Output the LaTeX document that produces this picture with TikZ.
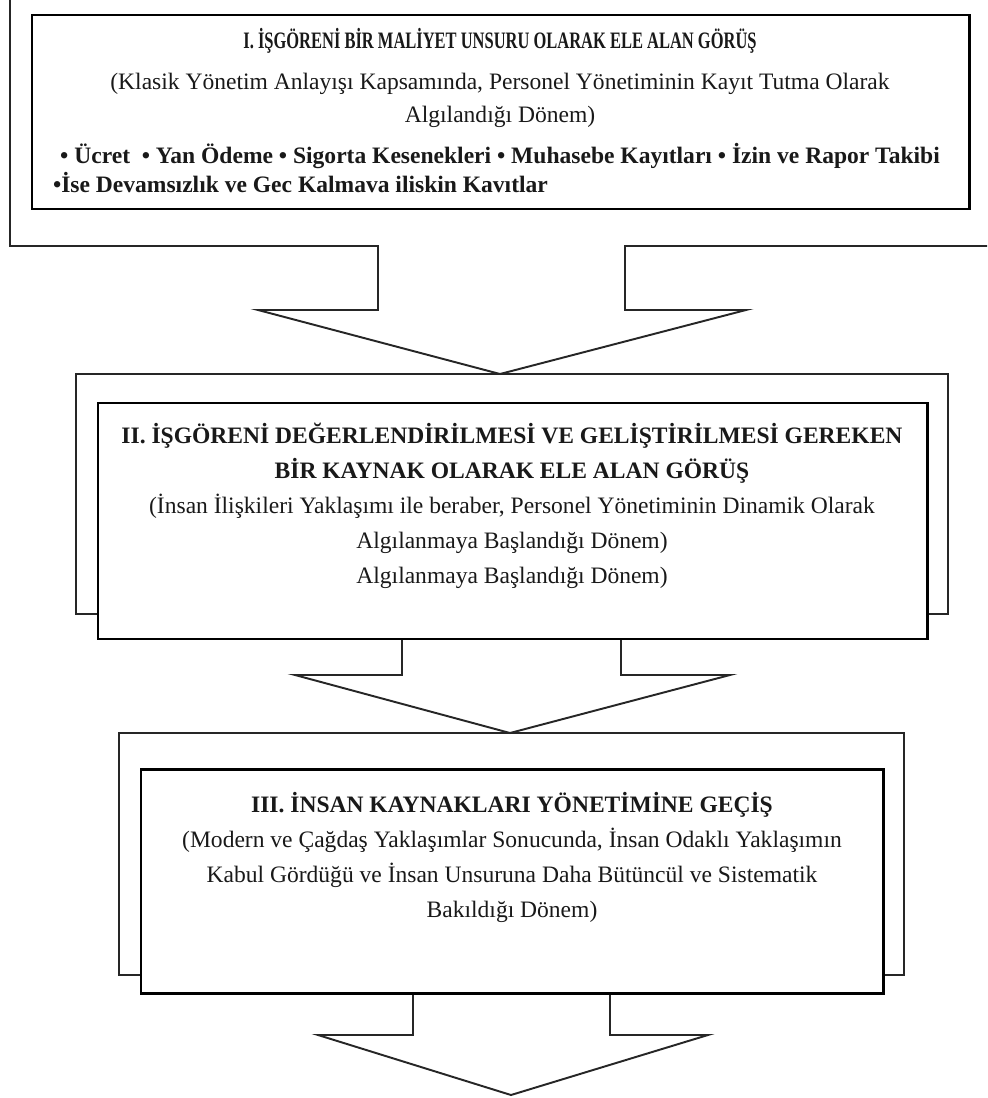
\documentclass[tikz,border=0pt]{standalone}
\usepackage{fontspec}
\setmainfont{Liberation Serif}
\newfontfamily\condfont{Liberation Serif}[FakeStretch=0.70]

\tikzset{
    frame/.style={draw=black!85, line width=1.1pt, line join=miter},
    innerbox/.style={draw=black, line width=1.7pt, fill=white},
    boxtext/.style={anchor=base, inner sep=0pt, align=center, text=black!90,
        font=\fontsize{13.4}{19.8}\selectfont}
}

\begin{document}
\begin{tikzpicture}[x=0.02cm, y=-0.02cm]

    \useasboundingbox (0,0) rectangle (987,1098);
    \clip (0,0) rectangle (987,1098);

    % stage I (base of the node = last line)
    \draw[frame] (10,-10) -- (10,246) -- (378,246) -- (378,310) -- (258,310) -- (500,374)
        -- (746,310) -- (625,310) -- (625,246) -- (1000,246);
    \draw[innerbox] (32,15) rectangle (969,209);
    \node[boxtext, font=\fontsize{13.4}{18.7}\selectfont] (textI) at (500,193) {%
        {\condfont\bfseries I. İŞGÖRENİ BİR MALİYET UNSURU OLARAK ELE ALAN GÖRÜŞ}\\[4.5pt]
        (Klasik Yönetim Anlayışı Kapsamında, Personel Yönetiminin Kayıt Tutma Olarak\\
        Algılandığı Dönem)\\[4.5pt]
        {\bfseries • Ücret\ \ • Yan Ödeme • Sigorta Kesenekleri • Muhasebe Kayıtları • İzin ve Rapor Takibi}\\[-1.7pt]
        {\bfseries\makebox[17.88cm][l]{•İse Devamsızlık ve Gec Kalmava iliskin Kavıtlar}}};

    % stage II
    \draw[frame] (76,374) -- (948,374) -- (948,614) -- (621,614) -- (621,675) -- (730,675) -- (510,733)
        -- (295,675) -- (402,675) -- (402,614) -- (76,614) -- cycle;
    \draw[innerbox] (98,403) rectangle (927,639);
    \node[boxtext] (textII) at (512,583) {%
        {\bfseries II. İŞGÖRENİ DEĞERLENDİRİLMESİ VE GELİŞTİRİLMESİ GEREKEN}\\
        {\bfseries BİR KAYNAK OLARAK ELE ALAN GÖRÜŞ}\\
        (İnsan İlişkileri Yaklaşımı ile beraber, Personel Yönetiminin Dinamik Olarak\\
        Algılanmaya Başlandığı Dönem)\\
        Algılanmaya Başlandığı Dönem)};

    % stage III
    \draw[frame] (119,733) -- (904,733) -- (904,975) -- (610,975) -- (610,1035) -- (708,1035) -- (511,1095)
        -- (318,1035) -- (413,1035) -- (413,975) -- (119,975) -- cycle;
    \draw[innerbox] (141,769) rectangle (883,993);
    \node[boxtext] (textIII) at (512,917) {%
        {\bfseries III. İNSAN KAYNAKLARI YÖNETİMİNE GEÇİŞ}\\
        (Modern ve Çağdaş Yaklaşımlar Sonucunda, İnsan Odaklı Yaklaşımın\\
        Kabul Gördüğü ve İnsan Unsuruna Daha Bütüncül ve Sistematik\\
        Bakıldığı Dönem)};

\end{tikzpicture}
\end{document}
